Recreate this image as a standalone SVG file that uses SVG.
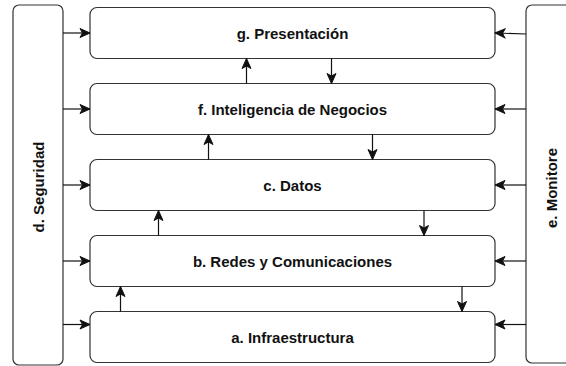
<svg xmlns="http://www.w3.org/2000/svg" width="566" height="366" viewBox="0 0 566 366">
<style>
.box{fill:#fff;stroke:#333;stroke-width:1.2}
.lbl{font-family:"Liberation Sans",Arial,sans-serif;font-weight:bold;font-size:15px;fill:#111;text-anchor:middle;dominant-baseline:central}
.con{stroke:#111;stroke-width:1.2;fill:none;marker-end:url(#ah)}
</style>
<defs>
<marker id="ah" markerUnits="userSpaceOnUse" markerWidth="12" markerHeight="12" viewBox="0 0 12 12" refX="11" refY="6" orient="auto">
<path d="M1,1.5 L11,6 L1,10.5 L3.5,6 z" fill="#111" stroke="#111" stroke-width="1"/>
</marker>
</defs>
<rect width="566" height="366" fill="#fff"/>
<g id="d">
<rect class="box" x="13" y="5" width="50" height="360" rx="6"/>
<text class="lbl" transform="translate(38,187) rotate(-90)">d. Seguridad</text>
</g>
<g id="e">
<rect class="box" x="526" y="5" width="60" height="358" rx="6"/>
<text class="lbl" transform="translate(551,188) rotate(-90)">e. Monitore</text>
</g>
<g id="g">
<rect class="box" x="90" y="7.5" width="405" height="51" rx="7"/>
<text class="lbl" x="292.5" y="33">g. Presentación</text>
</g>
<g id="f">
<rect class="box" x="90" y="83.5" width="405" height="51" rx="7"/>
<text class="lbl" x="292.5" y="109">f. Inteligencia de Negocios</text>
</g>
<g id="c">
<rect class="box" x="90" y="159.5" width="405" height="51" rx="7"/>
<text class="lbl" x="292.5" y="185">c. Datos</text>
</g>
<g id="b">
<rect class="box" x="90" y="235.5" width="405" height="51" rx="7"/>
<text class="lbl" x="292.5" y="261">b. Redes y Comunicaciones</text>
</g>
<g id="a">
<rect class="box" x="90" y="311.5" width="405" height="51" rx="7"/>
<text class="lbl" x="292.5" y="337">a. Infraestructura</text>
</g>
<g id="connectors">
<path class="con" d="M63,33 H90"/>
<path class="con" d="M63,109 H90"/>
<path class="con" d="M63,185 H90"/>
<path class="con" d="M63,261 H90"/>
<path class="con" d="M63,324.5 H90"/>
<path class="con" d="M526,34 L495,33"/>
<path class="con" d="M526,109 H495"/>
<path class="con" d="M526,185 H495"/>
<path class="con" d="M526,261 H495"/>
<path class="con" d="M526,324.5 H495"/>
<path class="con" d="M246.5,83.5 V58.5"/>
<path class="con" d="M331.5,58.5 V83.5"/>
<path class="con" d="M208.5,159.5 V134.5"/>
<path class="con" d="M372.5,134.5 V159.5"/>
<path class="con" d="M158.5,235.5 V210.5"/>
<path class="con" d="M424,210.5 V235.5"/>
<path class="con" d="M120.5,311.5 V286.5"/>
<path class="con" d="M462,286.5 V311.5"/>
</g>
</svg>
